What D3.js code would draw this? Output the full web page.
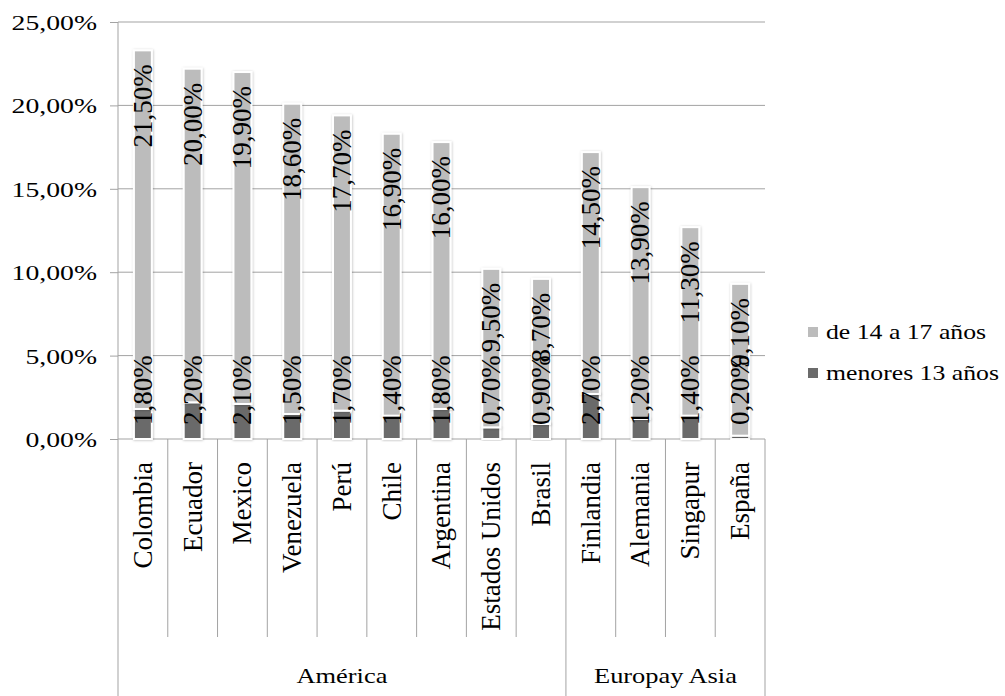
<!DOCTYPE html>
<html>
<head>
<meta charset="utf-8">
<script src="https://cdn.jsdelivr.net/npm/d3@7"></script>
<style>
    body { margin: 0; background: #fff; }
</style>
</head>
<body>
<div id="chart"></div>
<script>
const countries = ["Colombia", "Ecuador", "Mexico", "Venezuela", "Perú", "Chile", "Argentina", "Estados Unidos", "Brasil", "Finlandia", "Alemania", "Singapur", "España"]
const groups = [
    {name: "América", from: 0, to: 9},
    {name: "Europay Asia", from: 9, to: 13},
]
const menores13 = [1.8, 2.2, 2.1, 1.5, 1.7, 1.4, 1.8, 0.7, 0.9, 2.7, 1.2, 1.4, 0.2]
const de14a17 = [21.5, 20.0, 19.9, 18.6, 17.7, 16.9, 16.0, 9.5, 8.7, 14.5, 13.9, 11.3, 9.1]
const yTicks = [0, 5, 10, 15, 20, 25]
const seriesNames = ["menores 13 años", "de 14 a 17 años"]
const colors = {"menores 13 años": "#6b6b6b", "de 14 a 17 años": "#bcbcbc"}

const width = 1005, height = 696
const plot = {left: 118, right: 765, top: 22, bottom: 439}
const gridColor = "#a3a3a3"
const serif = "'Liberation Serif', 'Times New Roman', 'DejaVu Serif', serif"
const pct = v => v.toFixed(2).replace(".", ",") + "%"

const rows = countries.map((c, i) => ({
    country: c,
    "menores 13 años": menores13[i],
    "de 14 a 17 años": de14a17[i],
}))
const stacked = d3.stack().keys(seriesNames)(rows)

const xScale = d3.scaleBand()
    .domain(countries)
    .range([plot.left, plot.right])
    .paddingInner(0.64)
    .paddingOuter(0.32)
const yScale = d3.scaleLinear()
    .domain([0, 25])
    .range([plot.bottom, plot.top])
const step = xScale.step()
const cx = c => xScale(c) + xScale.bandwidth() / 2

const svg = d3.select("#chart").append("svg")
    .attr("width", width)
    .attr("height", height)
    .attr("font-family", serif)

const defs = svg.append("defs")
defs.append("filter")
    .attr("id", "shadow")
    .attr("x", "-50%").attr("y", "-10%")
    .attr("width", "200%").attr("height", "120%")
    .append("feDropShadow")
    .attr("dx", 0.5).attr("dy", 0.5)
    .attr("stdDeviation", 1.2)
    .attr("flood-color", "#000")
    .attr("flood-opacity", 0.25)

// grid
svg.append("g")
    .selectAll("line")
    .data(yTicks.filter(t => t > 0))
    .join("line")
    .attr("x1", plot.left).attr("x2", plot.right)
    .attr("y1", d => yScale(d)).attr("y2", d => yScale(d))
    .attr("stroke", gridColor)
    .attr("stroke-width", 1)

// y axis
const yAxis = d3.axisLeft(yScale)
    .tickValues(yTicks)
    .tickSize(8)
    .tickFormat(pct)
const yG = svg.append("g")
    .attr("class", "y axis")
    .attr("transform", `translate(${plot.left},0)`)
    .call(yAxis)
    .attr("font-family", serif)
    .attr("font-size", "22px")
yG.select(".domain").remove()
yG.selectAll(".tick line").attr("stroke", gridColor)
yG.selectAll(".tick text")
    .attr("fill", "#000")
    .attr("x", null)
    .attr("dy", null)
    .attr("dominant-baseline", "central")
    .attr("transform", "translate(-21,0) scale(1.26,1)")

// axis lines and category dividers
svg.append("line")
    .attr("x1", plot.left).attr("x2", plot.left)
    .attr("y1", plot.top).attr("y2", height)
    .attr("stroke", gridColor)
svg.append("line")
    .attr("x1", plot.left).attr("x2", plot.right)
    .attr("y1", plot.bottom).attr("y2", plot.bottom)
    .attr("stroke", gridColor)

const groupEdges = groups.map(g => g.to)
svg.append("g")
    .selectAll("line")
    .data(d3.range(1, countries.length + 1))
    .join("line")
    .attr("x1", i => plot.left + i * step)
    .attr("x2", i => plot.left + i * step)
    .attr("y1", plot.bottom)
    .attr("y2", i => groupEdges.includes(i) ? height : 637)
    .attr("stroke", gridColor)

// bars
const series = svg.append("g")
    .selectAll("g")
    .data(stacked)
    .join("g")
    .attr("fill", d => colors[d.key])
series.selectAll("rect")
    .data(d => d)
    .join("rect")
    .attr("x", d => xScale(d.data.country))
    .attr("width", xScale.bandwidth())
    .attr("y", d => yScale(d[1]))
    .attr("height", d => yScale(d[0]) - yScale(d[1]))
    .attr("stroke", "#fff")
    .attr("stroke-width", 2)
    .attr("filter", "url(#shadow)")

// data labels
const labelG = svg.append("g")
    .attr("font-size", "27px")
stacked.forEach((s, si) => {
    labelG.selectAll(null)
        .data(s)
        .join("text")
        .attr("transform", d => si === 0
            ? `translate(${cx(d.data.country)},${yScale(0) - 14}) rotate(-90)`
            : `translate(${cx(d.data.country)},${yScale(d[1]) + 14}) rotate(-90)`)
        .attr("text-anchor", si === 0 ? "start" : "end")
        .attr("dy", "0.33em")
        .text(d => pct(d[1] - d[0]))
})

// category labels
svg.append("g")
    .selectAll("text")
    .data(countries)
    .join("text")
    .attr("font-size", "27px")
    .attr("transform", d => `translate(${cx(d)},462) rotate(-90)`)
    .attr("text-anchor", "end")
    .attr("dy", "0.33em")
    .text(d => d)

// group labels
svg.append("g")
    .selectAll("text")
    .data(groups)
    .join("text")
    .attr("font-size", "22px")
    .attr("text-anchor", "middle")
    .attr("transform", g => `translate(${plot.left + (g.from + g.to) / 2 * step},683) scale(1.2,1)`)
    .text(g => g.name)

// legend
const legendItems = ["de 14 a 17 años", "menores 13 años"]
const legend = svg.append("g")
    .selectAll("g")
    .data(legendItems)
    .join("g")
    .attr("transform", (d, i) => `translate(808,${332 + i * 41})`)
legend.append("rect")
    .attr("x", 0).attr("y", -5)
    .attr("width", 10).attr("height", 10)
    .attr("fill", d => colors[d])
legend.append("text")
    .attr("font-size", "22px")
    .attr("dominant-baseline", "central")
    .attr("transform", "translate(18,0) scale(1.17,1)")
    .text(d => d)
</script>
</body>
</html>
